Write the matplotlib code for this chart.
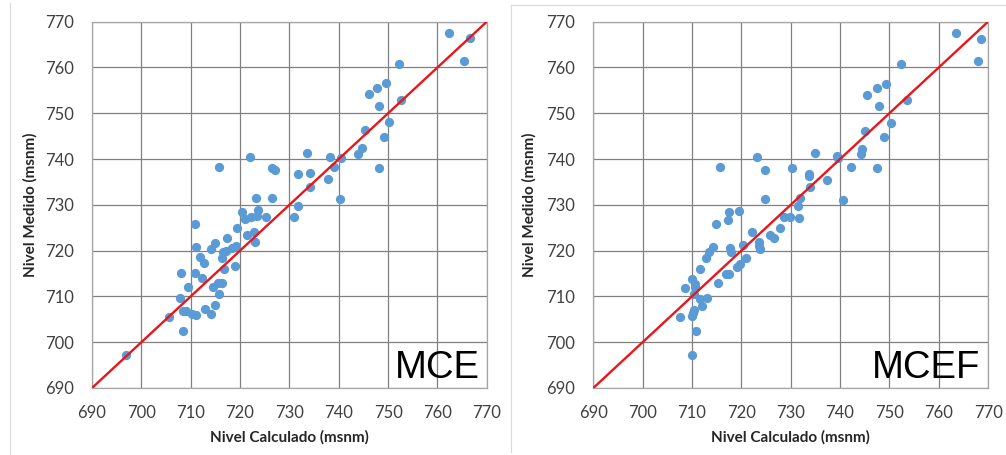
import matplotlib.pyplot as plt
from matplotlib.lines import Line2D

# MCE: nivel calculado / nivel medido
mce_calc = [715.8, 722.1, 726.4, 727.1, 723.3, 726.4,
            762.4, 766.6, 765.4, 752.3, 746.2, 747.7, 749.6, 748.2, 752.7, 750.2,
            745.4, 749.2, 744.8, 744.0, 733.5, 738.3, 740.4, 739.1, 748.2, 731.8,
            734.1, 737.9, 734.2, 740.3, 731.8, 730.9,
            696.8, 705.6, 708.4, 707.9, 708.4, 709.0, 710.3, 711.0, 709.5, 708.0,
            710.8, 712.2, 712.6, 711.9, 711.0, 710.8, 712.8, 714.2, 715.0, 715.7,
            714.5, 715.6, 716.4, 716.8, 718.9, 716.3, 716.6, 717.2, 714.2, 715.0,
            718.3, 719.2, 717.4, 719.4, 721.4, 722.8, 723.0, 720.3, 721.0, 722.3,
            723.5, 723.6, 725.2]
mce_med = [738.3, 740.5, 738.1, 737.7, 731.4, 731.5,
           767.5, 766.4, 761.4, 760.8, 754.2, 755.5, 756.7, 751.6, 753.0, 748.0,
           746.3, 744.8, 742.4, 741.1, 741.4, 740.5, 740.2, 738.2, 738.1, 736.7,
           736.9, 735.7, 734.0, 731.3, 729.8, 727.3,
           697.2, 705.5, 702.5, 709.7, 706.9, 706.8, 706.2, 705.9, 712.0, 715.1,
           715.1, 714.0, 717.2, 718.6, 720.9, 725.9, 707.3, 706.2, 708.1, 710.5,
           712.1, 712.9, 713.0, 716.0, 716.6, 718.3, 719.8, 720.0, 720.4, 721.6,
           720.6, 721.1, 722.8, 725.0, 723.4, 724.1, 721.9, 728.5, 726.9, 727.4,
           727.6, 728.9, 727.4]

# MCEF
mcef_calc = [715.6, 723.1, 724.7, 730.2, 724.7,
             763.4, 768.5, 767.9, 752.3, 745.5, 747.4, 749.4, 747.8, 753.5, 750.3,
             745.0, 748.9, 744.4, 744.3, 734.9, 739.3, 739.5, 742.2, 747.5, 733.7,
             733.8, 737.3, 734.0, 731.9, 740.5, 731.5, 729.9, 731.7,
             710.0, 710.9, 707.6, 710.1, 710.2, 710.4, 712.0, 711.6, 713.0, 710.4,
             708.5, 710.7, 710.6, 710.0, 711.7, 712.9, 713.4, 714.2, 715.2, 716.9,
             717.5, 719.2, 719.8, 720.9, 717.7, 717.9, 720.3, 714.8, 717.2, 717.5,
             719.6, 722.1, 723.6, 723.7, 723.6, 725.8, 726.6, 727.9, 728.7]
mcef_med = [738.3, 740.4, 737.6, 738.0, 731.3,
            767.5, 766.3, 761.4, 760.8, 754.1, 755.5, 756.5, 751.5, 752.9, 747.9,
            746.2, 744.8, 742.3, 741.0, 741.3, 740.6, 740.2, 738.2, 738.0, 736.7,
            736.3, 735.5, 733.9, 731.4, 731.1, 729.8, 727.4, 727.2,
            697.2, 702.5, 705.4, 705.8, 706.3, 707.1, 707.9, 709.5, 709.7, 710.5,
            711.9, 712.0, 712.7, 713.9, 715.9, 718.3, 719.6, 720.8, 713.0, 715.0,
            715.0, 716.5, 717.1, 718.5, 720.5, 719.8, 721.2, 725.8, 726.7, 728.5,
            728.7, 724.1, 721.8, 720.4, 721.1, 723.4, 722.8, 725.0, 727.4]

ticks = [690, 700, 710, 720, 730, 740, 750, 760, 770]
identidad = [690, 770]

W, H = 1006, 455
fig = plt.figure(figsize=(W / 100, H / 100), dpi=100)

# bordes de los paneles
fig.add_artist(Line2D([10 / W, 10 / W], [0, 1 - 3 / H], color='#d9d9d9', lw=0.8))
fig.add_artist(Line2D([511 / W, 511 / W], [3 / H, 1 - 5 / H], color='#d9d9d9', lw=0.8))
fig.add_artist(Line2D([511 / W, 1], [1 - 5 / H, 1 - 5 / H], color='#d9d9d9', lw=0.8))

paneles = [
    (92, mce_calc, mce_med, 'MCE', 38),
    (593.3, mcef_calc, mcef_med, 'MCEF', 537),
]

for x0, xc, ym, nombre, ylab_x in paneles:
    ax = fig.add_axes([x0 / W, 1 - 388 / H, 394.8 / W, (388 - 21.7) / H])
    ax.set_xlim(690, 770)
    ax.set_ylim(690, 770)
    ax.set_xticks(ticks)
    ax.set_yticks(ticks)
    ax.grid(True, color='#808080', lw=0.9)
    ax.set_axisbelow(True)
    for s in ax.spines.values():
        s.set_color('#a6a6a6')
        s.set_linewidth(0.9)
    ax.tick_params(length=0, labelsize=12, labelcolor='#404040')
    ax.tick_params(axis='x', pad=12)
    ax.tick_params(axis='y', pad=13)
    for lab in ax.get_xticklabels() + ax.get_yticklabels():
        lab.set_family('Lato')

    ax.scatter(xc, ym, s=32, color='#5b9bd5', zorder=3, clip_on=False)
    ax.plot(identidad, identidad, color='#e8161b', lw=1.7, zorder=4)

    ax.set_xlabel('Nivel Calculado (msnm)', family='Lato', weight='bold',
                  fontsize=11, color='#262626', labelpad=7)
    ax.set_ylabel('Nivel Medido (msnm)', family='Lato', weight='bold',
                  fontsize=11, color='#262626')
    ax.yaxis.set_label_coords((ylab_x - x0) / 394.8, 0.5)

    ax.text(768.5, 692.2, nombre, ha='right', va='baseline', fontsize=27.5,
            family='Liberation Sans', color='black', zorder=5)

fig.savefig('out.png', dpi=100)
